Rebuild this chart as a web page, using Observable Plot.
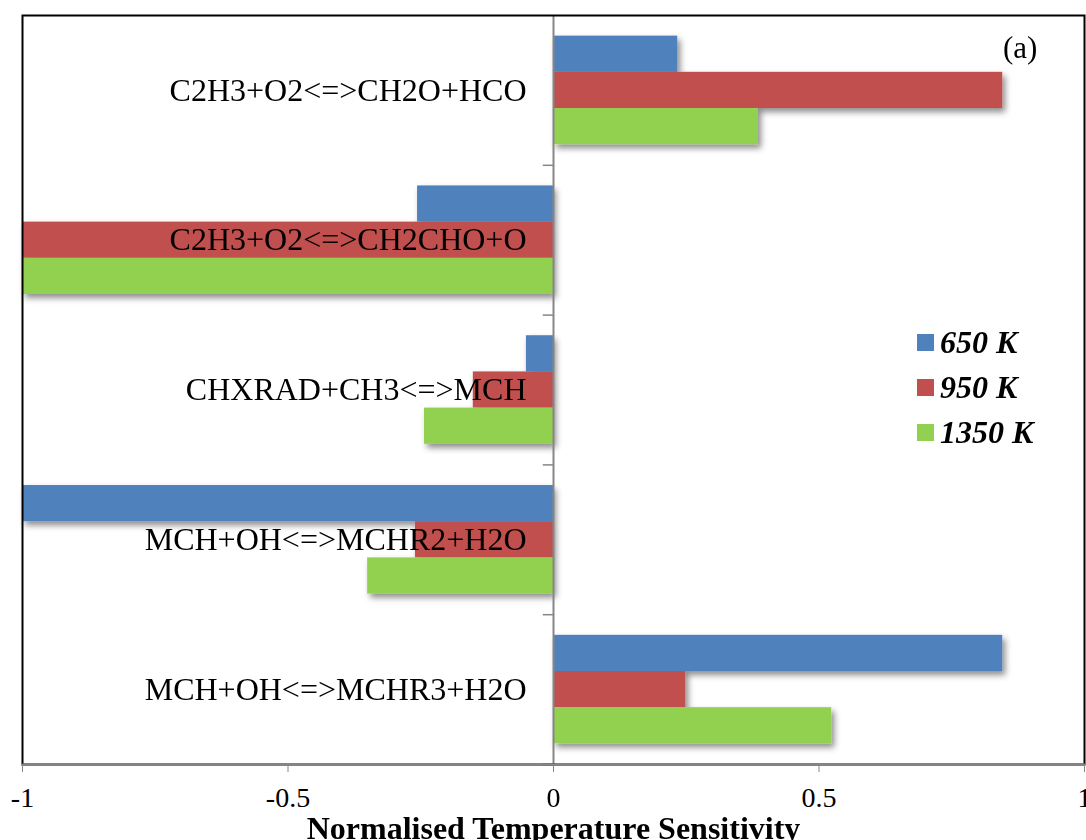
<!DOCTYPE html>
<html><head><meta charset="utf-8">
<script src="https://cdn.jsdelivr.net/npm/d3@7"></script>
<script src="https://cdn.jsdelivr.net/npm/@observablehq/plot@0.6"></script>
<style>
body{margin:0;background:#fff;}
#wrap{position:relative;width:1086px;height:840px;overflow:hidden;font-family:"Liberation Serif","Times New Roman",serif;}
#legend{position:absolute;left:917px;top:320px;}
#legend .row{display:flex;align-items:center;height:45px;font-weight:bold;font-style:italic;font-size:32px;line-height:45px;}
#legend .sw{width:17px;height:17px;margin-right:6px;}
#tag{position:absolute;left:1003px;top:30px;font-size:31px;line-height:36px;}
g[aria-label="x-axis label"] text{font-weight:bold;font-size:32px;}
</style></head><body><div id="wrap"></div>
<script>
const reactions = ["C2H3+O2<=>CH2O+HCO","C2H3+O2<=>CH2CHO+O","CHXRAD+CH3<=>MCH","MCH+OH<=>MCHR2+H2O","MCH+OH<=>MCHR3+H2O"];
const temps = ["650 K","950 K","1350 K"];
const colors = ["#4F81BD","#C0504D","#92D050"];
const v650 = [0.234, -0.256, -0.051, -1.0, 0.846];
const v950 = [0.846, -1.0, -0.151, -0.260, 0.249];
const v1350 = [0.386, -1.0, -0.243, -0.350, 0.524];
const xTicks = [-1, -0.5, 0, 0.5, 1];
const xTitle = "Normalised Temperature Sensitivity";
const panelTag = "(a)";

const seriesVals = [v650, v950, v1350];
const rows = reactions.flatMap((r, i) => temps.map((t, j) => ({reaction: r, temp: t, value: seriesVals[j][i]})));

const plot = Plot.plot({
  width: 1086, height: 840,
  marginLeft: 22, marginRight: 2, marginTop: 15, marginBottom: 76,
  style: {fontFamily: '"Liberation Serif","Times New Roman",serif', fontSize: "28px", color: "black", background: "white", overflow: "visible"},
  x: {domain: [-1, 1]},
  y: {domain: temps, paddingInner: 0, paddingOuter: 0.57, round: false, axis: null},
  fy: {domain: reactions, padding: 0, round: false, axis: null},
  color: {domain: temps, range: colors},
  marks: [
    Plot.barX(rows, {fy: "reaction", y: "temp", x1: 0, x2: "value", fill: "temp"}),
    Plot.ruleX([0], {stroke: "#868686", strokeWidth: 2}),
    Plot.frame({anchor: "bottom", stroke: "#868686", strokeWidth: 1.5, insetLeft: 521, insetRight: 531}),
    Plot.text(reactions, {fy: d => d, x: () => 0, text: d => d, textAnchor: "end", dx: -27, fontSize: 32, fill: "black"}),
    Plot.frame({facet: "super", stroke: "black", strokeWidth: 2}),
    Plot.frame({facet: "super", anchor: "bottom", stroke: "#868686", strokeWidth: 2}),
    Plot.axisX({ticks: xTicks, tickFormat: d => String(d), tickSize: 8, tickPadding: 15, stroke: "#868686", fill: "black", fontSize: 28,
      label: xTitle, labelAnchor: "center", labelArrow: "none", labelOffset: 74})
  ]
});

const wrap = document.getElementById("wrap");
wrap.appendChild(plot);

// drop shadow on bars
const svg = plot.tagName.toLowerCase() === "svg" ? plot : plot.querySelector("svg");
const ns = "http://www.w3.org/2000/svg";
const defs = document.createElementNS(ns, "defs");
defs.innerHTML = '<filter id="shadow" x="-10%" y="-20%" width="130%" height="160%"><feDropShadow dx="3" dy="4" stdDeviation="3" flood-color="#000" flood-opacity="0.45"/></filter>';
svg.insertBefore(defs, svg.firstChild);
svg.querySelectorAll('g[aria-label="bar"]').forEach(g => g.setAttribute("filter", "url(#shadow)"));

// legend
const legend = document.createElement("div");
legend.id = "legend";
temps.forEach((t, i) => {
  const row = document.createElement("div"); row.className = "row";
  const sw = document.createElement("div"); sw.className = "sw"; sw.style.background = colors[i];
  const lab = document.createElement("span"); lab.textContent = t;
  row.appendChild(sw); row.appendChild(lab); legend.appendChild(row);
});
wrap.appendChild(legend);
const tag = document.createElement("div"); tag.id = "tag"; tag.textContent = panelTag;
wrap.appendChild(tag);
</script></body></html>
